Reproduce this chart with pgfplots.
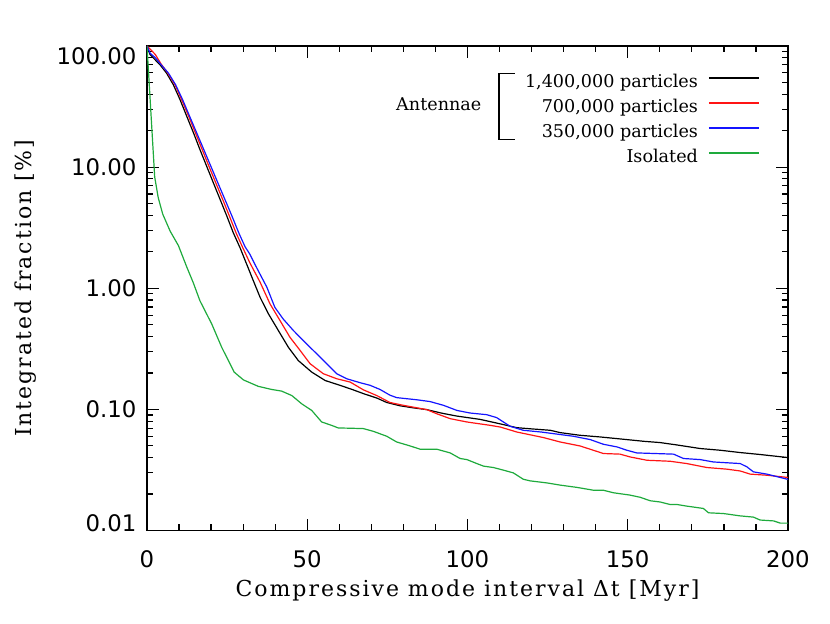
\documentclass[border=0pt]{standalone}
\usepackage{fontspec}
\usepackage{pgfplots}
\pgfplotsset{compat=1.18}
\newfontfamily\tickfont{DejaVu Sans}
\newfontfamily\labfont[LetterSpace=9]{DejaVu Serif}
\newfontfamily\legfont{DejaVu Serif}
\definecolor{idlred}{RGB}{255,20,20}
\definecolor{idlblue}{RGB}{20,20,255}
\definecolor{idlgreen}{RGB}{30,170,60}

\begin{document}
\begin{tikzpicture}
\path[use as bounding box] (-73.5pt,-46.75pt) rectangle (341.5pt,265.25pt);
\begin{axis}[
  scale only axis, width=320.5pt, height=242.25pt,
  at={(0,0)}, anchor=south west,
  xmin=0, xmax=200, ymode=log, ymin=0.01, ymax=100,
  xtick={0,50,100,150,200}, xticklabels={0,50,100,150,200},
  minor x tick num=4,
  ytick={0.01,0.1,1,10,100},
  yticklabels={\raisebox{3.75pt}[\height][\depth]{0.01},0.10,1.00,10.00,\raisebox{-5pt}[\height][\depth]{100.00}},
  tick align=inside, tick pos=both,
  major tick length=6pt, minor tick length=3pt,
  axis line style={line width=0.6pt},
  every tick/.style={black, line width=0.6pt},
  ticklabel style={font=\tickfont\fontsize{11.4}{12}\selectfont},
  xticklabel style={anchor=north, inner sep=0pt, yshift=-9.75pt},
  yticklabel style={anchor=east, inner sep=0pt, xshift=-5.15pt},
  xlabel={Compressive mode interval Δt [Myr]},
  ylabel={Integrated fraction [\%]},
  xlabel style={at={(axis description cs:0.5,-0.1249)}, anchor=center, font=\labfont\fontsize{11}{13}\selectfont},
  ylabel style={at={(axis description cs:-0.1888,0.5)}, anchor=center, font=\labfont\fontsize{11}{13}\selectfont},
  legend style={at={(rel axis cs:0.9563,0.9428)}, anchor=north east, draw=none, fill=none,
    inner sep=0pt, row sep=4pt, column sep=5pt, font=\legfont\fontsize{8.8}{10}\selectfont,
    nodes={inner sep=0pt, text height=6.5pt, text depth=2pt}},
  legend plot pos=right, legend cell align=right,
  legend image code/.code={\draw[#1, line width=0.8pt] (0pt,2.2pt) -- (25pt,2.2pt);},
]
\addplot[black, line width=0.6pt] coordinates {
(0,100)(0.94,85)(4.06,70)(6.1,59.7)(8.2,48)(10.3,36.1)(12.4,26.3)(14.5,19.2)(16.5,14.0)(18.6,10.2)
(20.7,7.43)(22.8,5.42)(24.9,3.95)(26.9,2.88)(29.0,2.17)(31.1,1.58)(33.2,1.15)(35.3,0.84)(37.9,0.614)
(41.0,0.447)(44.1,0.326)(47.2,0.253)(51.4,0.203)(55.6,0.173)(60.2,0.158)(64.0,0.146)(67.5,0.135)
(71.7,0.124)(74.8,0.114)(79.0,0.107)(83.0,0.103)(87.3,0.0995)(92.0,0.093)(96.7,0.088)(103.9,0.0827)
(109.1,0.0771)(115.4,0.0706)(120.0,0.0690)(125.8,0.0672)(128.9,0.0643)(135.1,0.0611)(141.4,0.0592)
(149.7,0.0563)(155.0,0.0545)(160.1,0.0532)(165.0,0.0510)(172.6,0.0475)(178.8,0.0460)(185.1,0.0440)
(191.3,0.0424)(200,0.0400)};
\addlegendentry{1,400,000 particles}
\addplot[idlred, line width=0.6pt] coordinates {
(0,100)(1.2,93)(2.6,85)(4.4,71)(6.5,59.7)(8.7,48)(10.8,36.1)(13.0,26.3)(15.1,19.2)(17.2,14.0)
(19.3,10.2)(21.45,7.43)(23.6,5.42)(25.7,3.95)(27.75,2.88)(29.85,2.17)(32.1,1.62)(35.3,1.12)(38.4,0.741)
(41.5,0.541)(44.6,0.394)(47.8,0.306)(50.9,0.238)(55.0,0.197)(59.2,0.179)(63.4,0.168)(67.5,0.145)
(71.7,0.130)(75.8,0.114)(80.0,0.108)(87.3,0.0995)(90.4,0.092)(94.6,0.0838)(99.8,0.0787)(107.1,0.0738)
(110.2,0.0715)(115.4,0.065)(123.7,0.0585)(128.9,0.0538)(135.1,0.0499)(142.4,0.0432)(147.6,0.0427)
(150.7,0.0405)(156.0,0.0380)(163.2,0.0373)(168.4,0.0357)(174.7,0.0331)(180.9,0.0321)(185.1,0.0310)
(188.2,0.0292)(193.4,0.0286)(200,0.0274)};
\addlegendentry{700,000 particles}
\addplot[idlblue, line width=0.6pt] coordinates {
(0,100)(1.0,87)(2.6,80)(4.4,70)(6.7,59.7)(8.9,48)(11.1,36.1)(13.3,26.3)(15.5,19.2)(17.7,14.0)
(19.9,10.2)(22.1,7.43)(24.3,5.42)(26.5,3.95)(28.6,2.88)(30.6,2.2)(32.1,1.91)(34.2,1.48)(37.4,1.02)
(39.9,0.695)(42.5,0.557)(45.7,0.447)(50.3,0.337)(53.0,0.287)(56.1,0.238)(59.2,0.197)(62.3,0.179)
(66.5,0.166)(69.6,0.158)(72.7,0.146)(75.8,0.131)(77.9,0.125)(84.2,0.120)(88.3,0.116)(92.5,0.108)
(96.7,0.098)(100.8,0.0933)(106.0,0.0904)(109.1,0.0855)(111.2,0.0787)(113.3,0.0725)(117.4,0.0672)
(123.0,0.065)(128.9,0.062)(133.0,0.060)(138.3,0.0563)(142.4,0.0515)(146.6,0.049)(149.7,0.046)
(152.8,0.0437)(164.3,0.0427)(167.4,0.0393)(172.6,0.0385)(176.7,0.0368)(185.1,0.0357)(187.2,0.0335)
(189.2,0.0305)(193.4,0.0292)(200,0.0264)};
\addlegendentry{350,000 particles}
\addplot[idlgreen, line width=0.6pt] coordinates {
(0,100)(2.4,8.3)(3.5,5.6)(4.9,4.1)(7.2,2.97)(9.8,2.25)(12.4,1.5)(14.5,1.1)(16.5,0.79)(20.2,0.507)
(23.3,0.326)(27.2,0.203)(30.1,0.175)(34.7,0.155)(38.9,0.146)(42.0,0.1415)(45.2,0.130)(48.3,0.111)
(51.4,0.098)(54.5,0.0787)(57.6,0.0738)(59.7,0.0702)(62.3,0.0700)(67.5,0.0694)(70.6,0.0659)(74.8,0.060)
(77.9,0.0538)(82.1,0.0499)(85.2,0.0469)(90.4,0.0469)(94.6,0.0437)(97.7,0.0393)(99.8,0.0385)
(102.9,0.0357)(105.0,0.034)(108.1,0.0331)(111.2,0.0315)(114.3,0.0299)(117.4,0.0265)(119.5,0.0257)
(124.8,0.0247)(128.9,0.0237)(134.1,0.0227)(139.3,0.0215)(142.4,0.0215)(145.5,0.0205)(150.7,0.0196)
(153.9,0.0188)(157.0,0.0176)(160.1,0.0172)(163.2,0.0164)(165.3,0.0164)(168.4,0.0159)(173.6,0.0152)
(175.2,0.014)(179.9,0.0138)(185.1,0.0132)(189.2,0.0129)(191.3,0.0122)(195.5,0.012)(197.6,0.0115)
(200,0.0115)};
\addlegendentry{Isolated}
\draw[line width=0.6pt] (rel axis cs:0.5741,0.9437) -- (rel axis cs:0.5491,0.9437)
  -- (rel axis cs:0.5491,0.8074) -- (rel axis cs:0.5741,0.8074);
\node[anchor=east, inner sep=0pt, font=\legfont\fontsize{8.8}{10}\selectfont]
  at (rel axis cs:0.5222,0.8799) {Antennae};
\end{axis}
\end{tikzpicture}
\end{document}
